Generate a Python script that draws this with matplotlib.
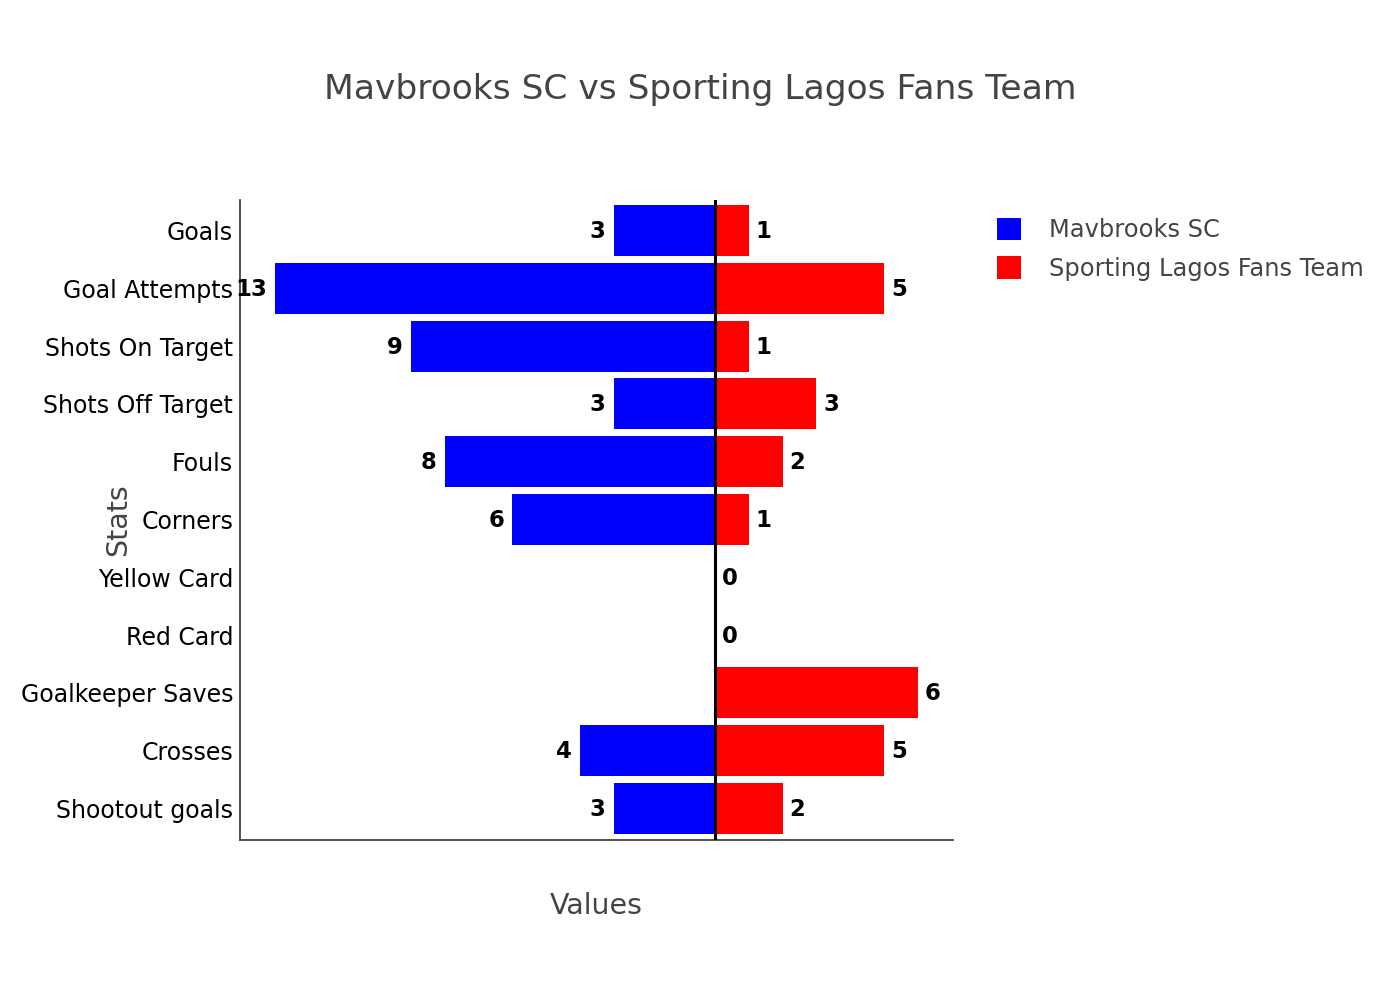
import matplotlib
matplotlib.use("Agg")
import matplotlib.pyplot as plt
import numpy as np

categories = ["Goals", "Goal Attempts", "Shots On Target", "Shots Off Target", "Fouls",
              "Corners", "Yellow Card", "Red Card", "Goalkeeper Saves", "Crosses", "Shootout goals"]
mavbrooks = [3, 13, 9, 3, 8, 6, 0, 0, 0, 4, 3]
lagos = [1, 5, 1, 3, 2, 1, 0, 0, 6, 5, 2]
series_names = ["Mavbrooks SC", "Sporting Lagos Fans Team"]
title = "Mavbrooks SC vs Sporting Lagos Fans Team"

plt.rcParams['font.family'] = ['DejaVu Sans']

fig = plt.figure(figsize=(14, 10), dpi=100)
ax = fig.add_axes([240/1400, 0.16, 713/1400, 0.64])

y = np.arange(len(categories))
left_vals = -np.array(mavbrooks)
right_vals = np.array(lagos)
b1 = ax.barh(y, left_vals, height=0.88, color="#0000ff", label=series_names[0])
b2 = ax.barh(y, right_vals, height=0.88, color="#ff0000", label=series_names[1])

for yi, v in zip(y, mavbrooks):
    if v > 0:
        ax.annotate(str(v), (-v, yi), xytext=(-8, -1), textcoords='offset pixels',
                    ha='right', va='center', fontsize=16.4, fontweight='bold', color='black')
for yi, v in zip(y, lagos):
    ax.annotate(str(v), (v, yi), xytext=(7, -1), textcoords='offset pixels',
                ha='left', va='center', fontsize=16.4, fontweight='bold', color='black')

ax.axvline(0, color='black', linewidth=2.2, zorder=5)

ax.set_xlim(-14.05, 7.04)
ax.set_ylim(10.545, -0.528)
ax.set_yticks(y)
ax.set_yticklabels(categories, fontsize=17, color='black')
ax.set_xticks([])
ax.tick_params(axis='y', length=0, pad=5)
for s in ['top', 'right']:
    ax.spines[s].set_visible(False)
for s in ['left', 'bottom']:
    ax.spines[s].set_color('#444444')
    ax.spines[s].set_linewidth(1.3)

ax.text(-0.171, 0.5, "Stats", transform=ax.transAxes, rotation=90, ha='center', va='center',
        fontsize=20.5, color='#444444')
ax.text(0.5, -0.103, "Values", transform=ax.transAxes, ha='center', va='center',
        fontsize=20.5, color='#444444')
fig.text(0.5, 0.910, title, ha='center', va='center', fontsize=24.8, color='#444444')

leg = ax.legend(handles=[b1, b2], loc='upper left', bbox_to_anchor=(997/1400, 1 - 218/1000),
                bbox_transform=fig.transFigure, frameon=False, fontsize=17.4,
                handlelength=1.0, handleheight=1.05, handletextpad=1.15, labelspacing=0.57,
                borderpad=0, borderaxespad=0)
for t in leg.get_texts():
    t.set_color('#444444')

fig.savefig("out.png", dpi=100)
